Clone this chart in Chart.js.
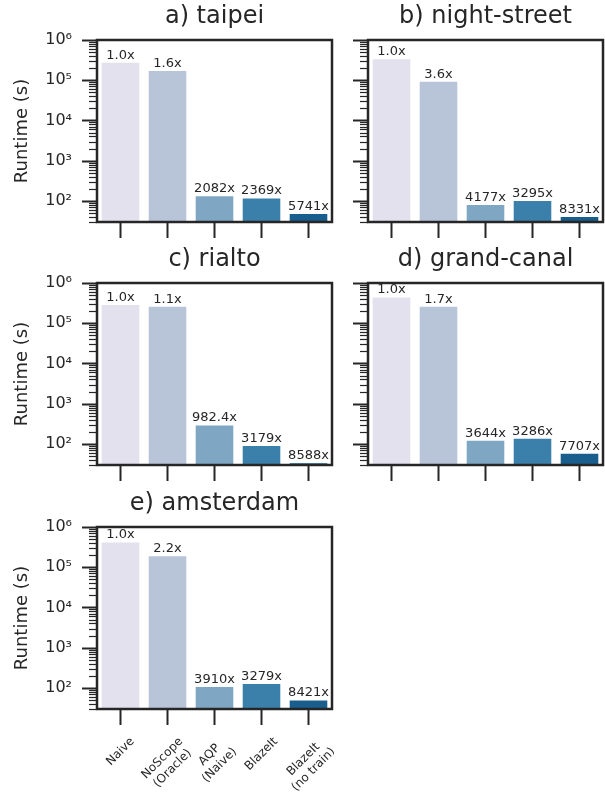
<!DOCTYPE html>
<html>
<head>
<meta charset="utf-8">
<script src="https://cdn.jsdelivr.net/npm/chart.js@4"></script>
<style>
  body { margin: 0; background: #fff; width: 605px; height: 796px; position: relative; overflow: hidden; }
  canvas { position: absolute; }
</style>
</head>
<body>
<canvas id="panelA" width="334" height="240" style="left:0;top:2px"></canvas>
<canvas id="panelB" width="265" height="240" style="left:340px;top:2px"></canvas>
<canvas id="panelC" width="334" height="240" style="left:0;top:245px"></canvas>
<canvas id="panelD" width="265" height="240" style="left:340px;top:245px"></canvas>
<canvas id="panelE" width="334" height="307" style="left:0;top:489px"></canvas>
<script>
// Methods on the x axis (multi-line labels as arrays)
const methods = ["Naive", ["NoScope", "(Oracle)"], ["AQP", "(Naive)"], "BlazeIt", ["BlazeIt", "(no train)"]];
const barColors = ["#e2e1ed", "#b8c4d8", "#7fa7c4", "#3a80aa", "#195e8c"];

// Runtime (s) per video
const taipeiRuntime = [273000, 170000, 131, 115, 47.5];
const nightStreetRuntime = [331000, 92000, 79, 100, 40];
const rialtoRuntime = [284000, 258000, 289, 89, 33];
const grandCanalRuntime = [439000, 258000, 120, 134, 57];
const amsterdamRuntime = [414000, 188000, 106, 126, 49];

// Speedup labels above the bars
const taipeiSpeedup = ["1.0x", "1.6x", "2082x", "2369x", "5741x"];
const nightStreetSpeedup = ["1.0x", "3.6x", "4177x", "3295x", "8331x"];
const rialtoSpeedup = ["1.0x", "1.1x", "982.4x", "3179x", "8588x"];
const grandCanalSpeedup = ["1.0x", "1.7x", "3644x", "3286x", "7707x"];
const amsterdamSpeedup = ["1.0x", "2.2x", "3910x", "3279x", "8421x"];

const yMin = 30, yMax = 1e6;
const sup = ["⁰", "¹", "²", "³", "⁴", "⁵", "⁶"];
const FONT = "'DejaVu Sans', sans-serif";
const INK = "#262626";

function isPow10(v) {
  const e = Math.log10(v);
  return Math.abs(e - Math.round(e)) < 1e-9;
}

// y tick marks (major + minor), frame, bar labels and rotated x labels
const decorations = {
  id: "decorations",
  afterDatasetsDraw(chart) {
    const { ctx, chartArea: area } = chart;
    const y = chart.scales.y;
    const x = chart.scales.x;
    ctx.save();
    ctx.strokeStyle = INK;
    y.ticks.forEach(t => {
      const major = isPow10(t.value);
      const py = Math.round(y.getPixelForValue(t.value)) + 0.5;
      ctx.lineWidth = major ? 2 : 1.2;
      ctx.beginPath();
      ctx.moveTo(area.left - (major ? 15 : 8), py);
      ctx.lineTo(area.left, py);
      ctx.stroke();
    });
    ctx.lineWidth = 2.5;
    ctx.strokeRect(area.left, area.top, area.right - area.left, area.bottom - area.top);

    const ds = chart.data.datasets[0];
    ctx.fillStyle = INK;
    ctx.font = "13px " + FONT;
    ctx.textAlign = "center";
    ctx.textBaseline = "bottom";
    chart.getDatasetMeta(0).data.forEach((bar, i) => {
      ctx.fillText(ds.speedup[i], bar.x, bar.y - 1);
    });

    if (ds.showX) {
      // 45 degree labels, centred under each tick (box top below the tick marks)
      const size = 12, lh = size * 1.2;
      const top = area.bottom + 16 + 9.5;
      ctx.font = size + "px " + FONT;
      ctx.textBaseline = "middle";
      chart.data.labels.forEach((lab, i) => {
        const lines = Array.isArray(lab) ? lab : [lab];
        const w = Math.max(...lines.map(s => ctx.measureText(s).width));
        const h = lines.length * lh;
        const boxH = (w + h) / Math.SQRT2;
        const cx = x.getPixelForTick(i);
        const cy = top + boxH / 2;
        ctx.save();
        ctx.translate(cx, cy);
        ctx.rotate(-Math.PI / 4);
        lines.forEach((s, j) => {
          ctx.fillText(s, 0, (j - (lines.length - 1) / 2) * lh);
        });
        ctx.restore();
      });
    }
    ctx.restore();
  }
};

function makePanel(id, title, runtime, speedup, showY, showX) {
  new Chart(document.getElementById(id), {
    type: "bar",
    data: {
      labels: methods,
      datasets: [{
        data: runtime,
        speedup: speedup,
        showX: showX,
        backgroundColor: barColors,
        categoryPercentage: 1.0,
        barPercentage: 0.8,
      }]
    },
    options: {
      responsive: false,
      animation: false,
      layout: { padding: { top: 0, right: 2, bottom: 0, left: 0 } },
      plugins: {
        legend: { display: false },
        tooltip: { enabled: false },
        title: {
          display: true,
          text: title,
          fullSize: false,
          color: INK,
          font: { family: FONT, size: 24, weight: "normal", lineHeight: 1.25 },
          padding: { top: 0, bottom: 8 },
        },
      },
      scales: {
        x: {
          grid: {
            display: true,
            drawOnChartArea: false,
            offset: false,
            tickLength: 16,
            tickWidth: 2,
            tickColor: INK,
          },
          border: { display: false },
          ticks: { display: false },
          afterFit(scale) { scale.height = showX ? 87 : 20; },
        },
        y: {
          type: "logarithmic",
          min: yMin,
          max: yMax,
          grid: {
            display: true,
            drawOnChartArea: false,
            tickLength: 15,
            tickColor: "rgba(0,0,0,0)",
          },
          border: { display: false },
          afterBuildTicks(scale) {
            const ticks = [];
            for (let d = 1; d <= 6; d++) {
              for (let k = 1; k <= 9; k++) {
                const v = k * Math.pow(10, d);
                if (v >= yMin && v <= yMax) ticks.push({ value: v, major: k === 1 });
              }
            }
            scale.ticks = ticks;
          },
          ticks: {
            autoSkip: false,
            padding: 10,
            color: INK,
            font: { family: FONT, size: 16 },
            callback(value) {
              if (!showY || !isPow10(value)) return "";
              return "10" + sup[Math.round(Math.log10(value))];
            },
          },
          title: {
            display: showY,
            text: "Runtime (s)",
            color: INK,
            font: { family: FONT, size: 18 },
            padding: { top: 12, bottom: 0 },
          },
          afterFit(scale) { scale.width = showY ? 97 : 28; },
        }
      }
    },
    plugins: [decorations]
  });
}

makePanel("panelA", "a) taipei", taipeiRuntime, taipeiSpeedup, true, false);
makePanel("panelB", "b) night-street", nightStreetRuntime, nightStreetSpeedup, false, false);
makePanel("panelC", "c) rialto", rialtoRuntime, rialtoSpeedup, true, false);
makePanel("panelD", "d) grand-canal", grandCanalRuntime, grandCanalSpeedup, false, false);
makePanel("panelE", "e) amsterdam", amsterdamRuntime, amsterdamSpeedup, true, true);
</script>
</body>
</html>
